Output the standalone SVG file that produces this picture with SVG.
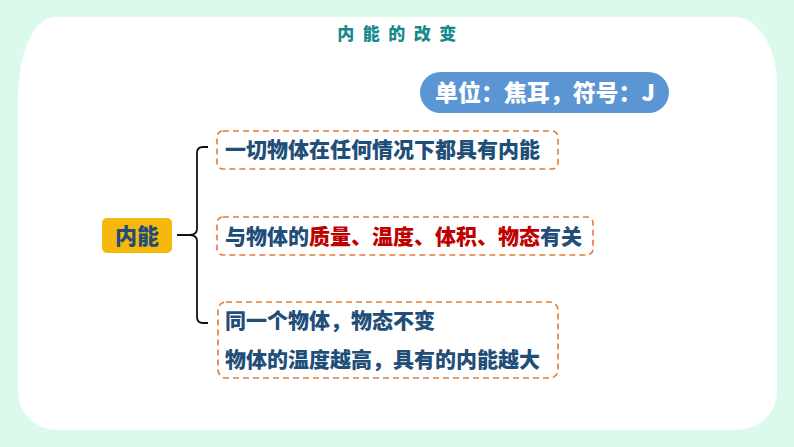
<svg xmlns="http://www.w3.org/2000/svg" width="794" height="447" viewBox="0 0 794 447">
<style>
.t{font-family:"Noto Sans CJK SC","Noto Sans",sans-serif;font-weight:900}
.dark{fill:#1f4e79}
.red{fill:#c00000}
.box{fill:none;stroke:#e07b39;stroke-width:1.6;stroke-dasharray:6 4}
.brace{fill:none;stroke:#111;stroke-width:1.8}
</style>
<rect x="0" y="0" width="794" height="447" fill="#dcfaec"/>
<path d="M55,17 H735 A42 68 0 0 1 777 85 V392 A40 38 0 0 1 737 430 H57 A39 38 0 0 1 18 392 V97 A37 80 0 0 1 55 17 Z" fill="#ffffff"/>
<text class="t" x="401" y="40" text-anchor="middle" font-size="17" letter-spacing="8.5" fill="#17898c">内能的改变</text>
<g id="unit">
<rect x="420" y="72" width="249" height="41" rx="20.5" fill="#5b95d3"/>
<text class="t" x="545" y="101" text-anchor="middle" font-size="23" fill="#ffffff" textLength="220">单位：焦耳，符号：J</text>
</g>
<g id="root">
<rect x="102" y="218" width="70" height="35" rx="5" fill="#f6b80c"/>
<text class="t dark" x="137" y="244" text-anchor="middle" font-size="22">内能</text>
</g>
<g id="connectors">
<path class="brace" d="M208,147 H203 Q197,147 197,153 V229 Q197,235 189,235 H177 M189,235 Q197,235 197,241 V317 Q197,323 203,323 H208"/>
</g>
<g id="n1">
<rect class="box" x="217" y="131" width="341" height="38" rx="6"/>
<text class="t dark" x="225" y="157" font-size="21">一切物体在任何情况下都具有内能</text>
</g>
<g id="n2">
<rect class="box" x="217" y="217" width="376" height="38" rx="6"/>
<text class="t" x="225" y="244" font-size="21"><tspan class="dark">与物体的</tspan><tspan class="red">质量、温度、体积、物态</tspan><tspan class="dark">有关</tspan></text>
</g>
<g id="n3">
<rect class="box" x="218" y="302" width="340" height="76" rx="8"/>
<text class="t dark" x="225" y="328" font-size="21">同一个物体，物态不变</text>
<text class="t dark" x="225" y="367" font-size="21">物体的温度越高，具有的内能越大</text>
</g>
</svg>
